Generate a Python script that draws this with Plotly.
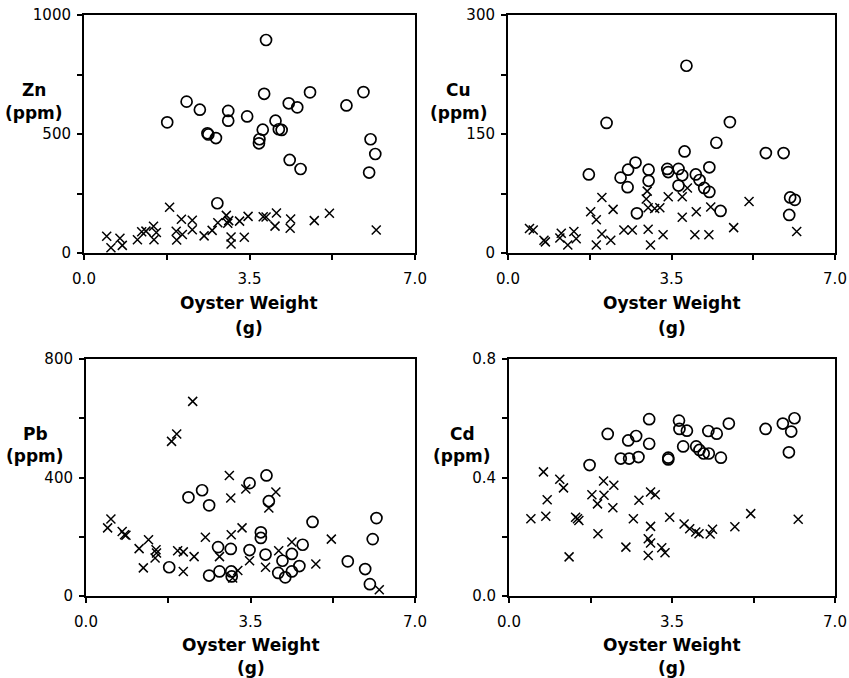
import plotly.graph_objects as go

# ---------------- data ----------------
x_tickvals = [0, 1.75, 3.5, 5.25, 7.0]
x_ticktext = ["0.0", "", "3.5", "", "7.0"]

# Zn (ppm) - circles
zn_o_x = [3.85, 1.76, 2.17, 2.45, 2.61, 2.63, 2.79, 3.05, 3.05, 3.45, 3.81, 3.78, 3.71, 3.70,
          4.05, 4.18, 4.12, 4.33, 4.51, 4.78, 4.35, 4.58, 5.55, 5.91, 6.06, 6.16, 6.03, 2.82]
zn_o_y = [895, 549, 636, 602, 503, 498, 483, 597, 556, 574, 669, 518, 478, 461,
          556, 517, 520, 629, 612, 675, 391, 353, 620, 676, 478, 416, 338, 209]
# Zn (ppm) - crosses
zn_x_x = [0.48, 0.57, 0.76, 0.81, 1.13, 1.22, 1.31, 1.47, 1.48, 1.53, 1.81, 1.95, 1.96, 2.06,
          2.08, 2.29, 2.29, 2.54, 2.71, 2.83, 3.01, 3.06, 3.04, 3.11, 3.11, 3.29, 3.39, 3.47,
          3.79, 3.85, 4.07, 4.04, 4.37, 4.36, 4.87, 5.19, 6.18]
zn_x_y = [70, 22, 62, 32, 56, 89, 92, 112, 56, 86, 192, 91, 55, 142,
          78, 138, 98, 72, 95, 127, 158, 136, 125, 67, 38, 134, 66, 154,
          152, 151, 168, 113, 143, 104, 136, 167, 97]

# Cu (ppm) - circles
cu_o_x = [3.82, 2.11, 4.75, 4.46, 3.78, 5.52, 5.90, 1.73, 2.41, 2.57, 2.73, 2.56, 3.01, 3.01,
          3.41, 3.43, 3.65, 3.73, 3.65, 4.02, 4.10, 4.20, 4.31, 4.31, 4.55, 2.76, 6.04, 6.14, 6.02]
cu_o_y = [236, 164, 165, 139, 128, 126, 126, 99, 95, 105, 114, 83, 105, 91,
          106, 102, 106, 98, 85, 99, 92, 82, 77, 108, 53, 50, 70, 67, 48]
# Cu (ppm) - crosses
cu_x_x = [0.46, 0.54, 0.77, 0.80, 1.11, 1.14, 1.28, 1.41, 1.46, 1.77, 1.89, 2.01, 2.01, 1.89,
          2.20, 2.25, 2.48, 2.66, 2.98, 2.96, 3.00, 3.00, 3.05, 3.14, 3.25, 3.32, 3.43, 3.73,
          3.73, 3.84, 4.00, 4.03, 4.30, 4.34, 4.83, 5.16, 6.18]
cu_x_y = [31, 29, 16, 14, 19, 25, 10, 27, 18, 52, 42, 70, 24, 10,
          16, 55, 29, 29, 78, 68, 57, 30, 10, 56, 57, 23, 71, 71,
          45, 82, 23, 52, 23, 58, 32, 65, 27]

# Pb (ppm) - circles
pb_o_x = [3.84, 3.48, 2.47, 2.18, 2.62, 3.89, 3.72, 3.72, 4.82, 6.18, 6.10, 2.81, 3.08, 3.48,
          3.82, 4.61, 4.38, 4.18, 4.54, 4.38, 4.09, 4.24, 1.77, 2.62, 2.84, 3.09, 3.10, 5.57,
          5.94, 6.04]
pb_o_y = [407, 381, 357, 333, 306, 320, 215, 196, 250, 263, 192, 165, 159, 155,
          140, 173, 142, 119, 101, 83, 78, 63, 97, 69, 83, 83, 66, 117,
          91, 40]
# Pb (ppm) - crosses
pb_x_x = [2.27, 1.93, 1.82, 3.05, 3.08, 3.40, 4.04, 3.89, 0.53, 0.46, 0.77, 0.82, 0.85, 1.13,
          1.33, 1.49, 1.50, 1.47, 1.22, 1.95, 2.07, 2.30, 2.07, 2.54, 2.84, 3.09, 3.32, 3.12,
          3.23, 3.48, 3.82, 4.10, 4.38, 4.89, 5.22, 6.24]
pb_x_y = [657, 547, 522, 407, 331, 361, 351, 297, 260, 230, 218, 207, 205, 160,
          190, 156, 145, 128, 95, 153, 149, 133, 83, 198, 133, 207, 230, 61,
          86, 119, 97, 153, 182, 108, 192, 21]

# Cd (ppm) - circles
cd_o_x = [3.01, 3.65, 3.66, 3.82, 4.72, 4.28, 4.46, 5.51, 5.88, 6.13, 6.06, 6.01, 2.12, 2.73,
          2.56, 3.01, 3.74, 4.02, 4.09, 4.18, 4.29, 4.55, 2.40, 2.58, 2.78, 3.42, 3.42, 1.73]
cd_o_y = [0.597, 0.592, 0.564, 0.558, 0.582, 0.557, 0.548, 0.564, 0.582, 0.600, 0.555, 0.485,
          0.547, 0.540, 0.525, 0.514, 0.505, 0.505, 0.493, 0.481, 0.481, 0.467, 0.464, 0.464,
          0.469, 0.467, 0.461, 0.442]
# Cd (ppm) - crosses
cd_x_x = [0.74, 1.09, 1.17, 0.82, 0.47, 0.79, 1.43, 1.47, 1.50, 1.29, 1.78, 1.90, 2.03, 2.04,
          2.25, 2.23, 1.91, 2.67, 2.51, 2.79, 3.04, 3.14, 3.04, 2.99, 3.04, 2.99, 3.28, 3.35,
          3.45, 3.76, 3.88, 4.01, 4.08, 4.32, 4.37, 4.85, 5.19, 6.21]
cd_x_y = [0.419, 0.394, 0.365, 0.325, 0.261, 0.269, 0.266, 0.261, 0.255, 0.132, 0.342, 0.311,
          0.388, 0.340, 0.374, 0.298, 0.210, 0.261, 0.165, 0.323, 0.351, 0.342, 0.235, 0.193,
          0.179, 0.137, 0.163, 0.146, 0.266, 0.243, 0.227, 0.216, 0.210, 0.209, 0.225, 0.234,
          0.278, 0.259]

panel_names = ["Zn", "Cu", "Pb", "Cd"]
y_tickvals = [[0, 250, 500, 750, 1000], [0, 75, 150, 225, 300],
              [0, 200, 400, 600, 800], [0, 0.2, 0.4, 0.6, 0.8]]
y_ticktext = [["0", "", "500", "", "1000"], ["0", "", "150", "", "300"],
              ["0", "", "400", "", "800"], ["0.0", "", "0.4", "", "0.8"]]

# ---------------- layout geometry (pixels) ----------------
W, H = 849, 678
# plot-area boxes: (left, right, top, bottom) in pixels
boxes = [(84, 415, 15, 253), (508, 835, 15, 253),
         (86, 415, 359, 596), (509, 835, 359, 596)]
ytitle_pos = [(34, 90, 113), (459, 90, 113), (35, 434, 456), (462, 434, 456)]
xtitle_y = [(303, 328), (303, 328), (645, 668), (645, 668)]

series = [(zn_o_x, zn_o_y, zn_x_x, zn_x_y), (cu_o_x, cu_o_y, cu_x_x, cu_x_y),
          (pb_o_x, pb_o_y, pb_x_x, pb_x_y), (cd_o_x, cd_o_y, cd_x_x, cd_x_y)]

fig = go.Figure()
layout = {}
annotations = []
title_font = dict(family="DejaVu Sans", size=17, color="black", weight="bold")

for i in range(4):
    n = "" if i == 0 else str(i + 1)
    ox, oy, xx, xy = series[i]
    fig.add_trace(go.Scatter(x=ox, y=oy, mode="markers", xaxis="x" + n, yaxis="y" + n,
                             marker=dict(symbol="circle-open", size=11, color="black",
                                         line=dict(width=1.7, color="black")),
                             cliponaxis=False, showlegend=False, name=panel_names[i] + " ○"))
    fig.add_trace(go.Scatter(x=xx, y=xy, mode="markers", xaxis="x" + n, yaxis="y" + n,
                             marker=dict(symbol="x-thin-open", size=9, color="black",
                                         line=dict(width=1.5, color="black")),
                             cliponaxis=False, showlegend=False, name=panel_names[i] + " ×"))
    l, r, t, b = boxes[i]
    ymax = y_tickvals[i][-1]
    axis_common = dict(showgrid=False, zeroline=False, showline=True, linecolor="black",
                       linewidth=2, mirror=True, ticks="outside", ticklen=5, tickwidth=1.5,
                       tickcolor="black", automargin=False,
                       tickfont=dict(family="DejaVu Sans", size=15, color="black"))
    layout["xaxis" + n] = dict(domain=[l / W, r / W], range=[0, 7.0], anchor="y" + n,
                               tickmode="array", tickvals=x_tickvals, ticktext=x_ticktext,
                               ticklabelstandoff=6, **axis_common)
    layout["yaxis" + n] = dict(domain=[1 - b / H, 1 - t / H], range=[0, ymax], anchor="x" + n,
                               tickmode="array", tickvals=y_tickvals[i], ticktext=y_ticktext[i],
                               ticklabelstandoff=3, **axis_common)
    tx, ty1, ty2 = ytitle_pos[i]
    annotations.append(dict(x=tx / W, y=1 - ty1 / H, xref="paper", yref="paper",
                            xanchor="center", yanchor="middle",
                            text=panel_names[i], showarrow=False, font=title_font))
    annotations.append(dict(x=tx / W, y=1 - ty2 / H, xref="paper", yref="paper",
                            xanchor="center", yanchor="middle",
                            text="(ppm)", showarrow=False, font=title_font))
    cx = (l + r) / 2
    annotations.append(dict(x=cx / W, y=1 - xtitle_y[i][0] / H, xref="paper", yref="paper",
                            xanchor="center", yanchor="middle",
                            text="Oyster Weight", showarrow=False, font=title_font))
    annotations.append(dict(x=cx / W, y=1 - xtitle_y[i][1] / H, xref="paper", yref="paper",
                            xanchor="center", yanchor="middle",
                            text="(g)", showarrow=False, font=title_font))

fig.update_layout(**layout)
fig.update_layout(width=W, height=H, margin=dict(l=0, r=0, t=0, b=0, autoexpand=False),
                  paper_bgcolor="white", plot_bgcolor="white", annotations=annotations)

fig.write_html("out.html", config={"displayModeBar": False},
               post_script="document.body.style.margin='0';document.body.style.overflow='hidden';")
